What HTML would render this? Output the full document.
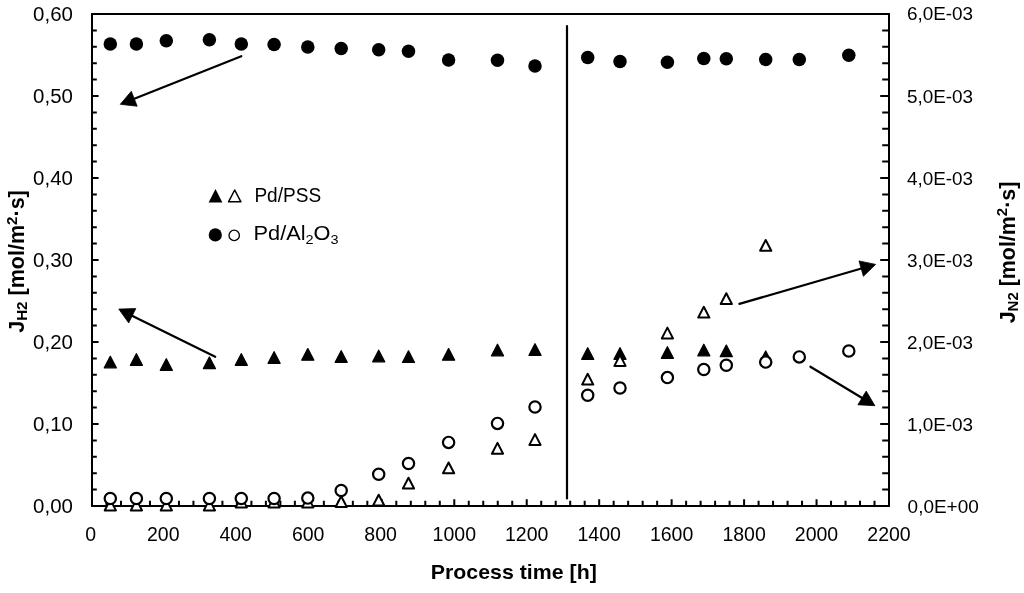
<!DOCTYPE html><html><head><meta charset="utf-8"><style>html,body{margin:0;padding:0;background:#fff;}svg{display:block;will-change:transform;}text{font-family:"Liberation Sans",sans-serif;fill:#000;}</style></head><body>
<svg width="1024" height="593" viewBox="0 0 1024 593">
<rect width="1024" height="593" fill="#fff"/>
<path d="M92 489.60H96.80M92 473.20H96.80M92 456.80H96.80M92 440.40H96.80M92 424.00H98.60M92 407.60H96.80M92 391.20H96.80M92 374.80H96.80M92 358.40H96.80M92 342.00H98.60M92 325.60H96.80M92 309.20H96.80M92 292.80H96.80M92 276.40H96.80M92 260.00H98.60M92 243.60H96.80M92 227.20H96.80M92 210.80H96.80M92 194.40H96.80M92 178.00H98.60M92 161.60H96.80M92 145.20H96.80M92 128.80H96.80M92 112.40H96.80M92 96.00H98.60M92 79.60H96.80M92 63.20H96.80M92 46.80H96.80M92 30.40H96.80M889 489.60H882.20M889 473.20H882.20M889 456.80H882.20M889 440.40H882.20M889 424.00H880.20M889 407.60H882.20M889 391.20H882.20M889 374.80H882.20M889 358.40H882.20M889 342.00H880.20M889 325.60H882.20M889 309.20H882.20M889 292.80H882.20M889 276.40H882.20M889 260.00H880.20M889 243.60H882.20M889 227.20H882.20M889 210.80H882.20M889 194.40H882.20M889 178.00H880.20M889 161.60H882.20M889 145.20H882.20M889 128.80H882.20M889 112.40H882.20M889 96.00H880.20M889 79.60H882.20M889 63.20H882.20M889 46.80H882.20M889 30.40H882.20M106.49 506V500.80M120.98 506V500.80M135.47 506V500.80M149.96 506V500.80M164.45 506V499.20M178.95 506V500.80M193.44 506V500.80M207.93 506V500.80M222.42 506V500.80M236.91 506V499.20M251.40 506V500.80M265.89 506V500.80M280.38 506V500.80M294.87 506V500.80M309.36 506V499.20M323.85 506V500.80M338.35 506V500.80M352.84 506V500.80M367.33 506V500.80M381.82 506V499.20M396.31 506V500.80M410.80 506V500.80M425.29 506V500.80M439.78 506V500.80M454.27 506V499.20M468.76 506V500.80M483.25 506V500.80M497.75 506V500.80M512.24 506V500.80M526.73 506V499.20M541.22 506V500.80M555.71 506V500.80M570.20 506V500.80M584.69 506V500.80M599.18 506V499.20M613.67 506V500.80M628.16 506V500.80M642.65 506V500.80M657.15 506V500.80M671.64 506V499.20M686.13 506V500.80M700.62 506V500.80M715.11 506V500.80M729.60 506V500.80M744.09 506V499.20M758.58 506V500.80M773.07 506V500.80M787.56 506V500.80M802.05 506V500.80M816.55 506V499.20M831.04 506V500.80M845.53 506V500.80M860.02 506V500.80M874.51 506V500.80" stroke="#000" stroke-width="2" fill="none"/>
<path d="M92 14H889V506H92Z" stroke="#000" stroke-width="2" fill="none" stroke-linejoin="miter"/>
<path d="M567 26V498.4" stroke="#000" stroke-width="2.2" stroke-linecap="round"/>
<path d="M241.3 56.2L132.4 99.5" stroke="#000" stroke-width="2.2" stroke-linecap="round"/><path d="M120.3 104.3L131.3 91.3L137.2 106.2Z" fill="#000" stroke="#000" stroke-width="0.8" stroke-linejoin="round"/>
<path d="M215.2 356.8L130.5 314.9" stroke="#000" stroke-width="2.2" stroke-linecap="round"/><path d="M118.8 309.1L135.8 308.6L128.7 322.9Z" fill="#000" stroke="#000" stroke-width="0.8" stroke-linejoin="round"/>
<path d="M739.4 303.9L863.1 268.0" stroke="#000" stroke-width="2.2" stroke-linecap="round"/><path d="M875.6 264.4L863.4 276.3L859.0 260.9Z" fill="#000" stroke="#000" stroke-width="0.8" stroke-linejoin="round"/>
<path d="M810.4 366.7L863.8 399.0" stroke="#000" stroke-width="2.2" stroke-linecap="round"/><path d="M874.9 405.7L857.9 404.8L866.2 391.1Z" fill="#000" stroke="#000" stroke-width="0.8" stroke-linejoin="round"/>
<g fill="#000"><circle cx="110.3" cy="44.0" r="6.75"/><circle cx="136.4" cy="43.9" r="6.75"/><circle cx="166.3" cy="40.7" r="6.75"/><circle cx="209.4" cy="39.8" r="6.75"/><circle cx="241.3" cy="44.1" r="6.75"/><circle cx="274.1" cy="44.6" r="6.75"/><circle cx="307.8" cy="46.9" r="6.75"/><circle cx="341.2" cy="48.4" r="6.75"/><circle cx="378.7" cy="49.7" r="6.75"/><circle cx="408.5" cy="51.2" r="6.75"/><circle cx="448.6" cy="59.9" r="6.75"/><circle cx="497.5" cy="60.3" r="6.75"/><circle cx="535" cy="66" r="6.75"/><circle cx="587.7" cy="57.5" r="6.75"/><circle cx="620" cy="61.6" r="6.75"/><circle cx="667.4" cy="62.2" r="6.75"/><circle cx="703.8" cy="58.4" r="6.75"/><circle cx="726.3" cy="58.8" r="6.75"/><circle cx="765.7" cy="59.4" r="6.75"/><circle cx="799.3" cy="59.4" r="6.75"/><circle cx="848.8" cy="55.3" r="6.75"/></g>
<g fill="#000" stroke="#000" stroke-width="1.3" stroke-linejoin="round"><path d="M110.3 356.3L116.3 367.85L104.3 367.85Z"/><path d="M136.4 353.7L142.4 365.25L130.4 365.25Z"/><path d="M166.3 358.8L172.3 370.35L160.3 370.35Z"/><path d="M209.4 357.0L215.4 368.55L203.4 368.55Z"/><path d="M241.3 353.7L247.3 365.25L235.3 365.25Z"/><path d="M274.1 351.7L280.1 363.25L268.1 363.25Z"/><path d="M307.8 348.6L313.8 360.15000000000003L301.8 360.15000000000003Z"/><path d="M341.2 350.7L347.2 362.25L335.2 362.25Z"/><path d="M378.7 350.3L384.7 361.85L372.7 361.85Z"/><path d="M408.5 350.90000000000003L414.5 362.45000000000005L402.5 362.45000000000005Z"/><path d="M448.6 348.6L454.6 360.15000000000003L442.6 360.15000000000003Z"/><path d="M497.5 344.3L503.5 355.85L491.5 355.85Z"/><path d="M535 343.8L541.0 355.35L529.0 355.35Z"/><path d="M587.7 347.8L593.7 359.35L581.7 359.35Z"/><path d="M620 347.7L626.0 359.25L614.0 359.25Z"/><path d="M667.4 346.8L673.4 358.35L661.4 358.35Z"/><path d="M703.8 344.3L709.8 355.85L697.8 355.85Z"/><path d="M726.3 345.1L732.3 356.65000000000003L720.3 356.65000000000003Z"/><path d="M765.7 351.0L771.7 362.55L759.7 362.55Z"/></g>
<g fill="#fff" stroke="#000" stroke-width="2" stroke-linejoin="round"><path d="M110.3 499.6L115.89999999999999 510.4L104.7 510.4Z"/><path d="M136.4 499.6L142.0 510.4L130.8 510.4Z"/><path d="M166.3 499.6L171.9 510.4L160.70000000000002 510.4Z"/><path d="M209.4 499.6L215.0 510.4L203.8 510.4Z"/><path d="M241.3 496.6L246.9 507.4L235.70000000000002 507.4Z"/><path d="M274.1 496.6L279.70000000000005 507.4L268.5 507.4Z"/><path d="M307.8 496.6L313.40000000000003 507.4L302.2 507.4Z"/><path d="M341.2 496.20000000000005L346.8 507.0L335.59999999999997 507.0Z"/><path d="M378.7 494.70000000000005L384.3 505.5L373.09999999999997 505.5Z"/><path d="M408.5 477.70000000000005L414.1 488.5L402.9 488.5Z"/><path d="M448.6 462.5L454.20000000000005 473.29999999999995L443.0 473.29999999999995Z"/><path d="M497.5 442.90000000000003L503.1 453.7L491.9 453.7Z"/><path d="M535 434.1L540.6 444.9L529.4 444.9Z"/><path d="M587.7 373.8L593.3000000000001 384.59999999999997L582.1 384.59999999999997Z"/><path d="M620 355.1L625.6 365.9L614.4 365.9Z"/><path d="M667.4 327.6L673.0 338.4L661.8 338.4Z"/><path d="M703.8 306.8L709.4 317.59999999999997L698.1999999999999 317.59999999999997Z"/><path d="M726.3 293.20000000000005L731.9 304.0L720.6999999999999 304.0Z"/><path d="M765.7 240.0L771.3000000000001 250.8L760.1 250.8Z"/></g>
<g fill="#fff" stroke="#000" stroke-width="2.2"><circle cx="110.3" cy="498.5" r="5.65"/><circle cx="136.4" cy="498.5" r="5.65"/><circle cx="166.3" cy="498.5" r="5.65"/><circle cx="209.4" cy="498.5" r="5.65"/><circle cx="241.3" cy="498.5" r="5.65"/><circle cx="274.1" cy="498.5" r="5.65"/><circle cx="307.8" cy="498.1" r="5.65"/><circle cx="341.2" cy="490.5" r="5.65"/><circle cx="378.7" cy="474.3" r="5.65"/><circle cx="408.5" cy="463.5" r="5.65"/><circle cx="448.6" cy="442.4" r="5.65"/><circle cx="497.5" cy="423.4" r="5.65"/><circle cx="535" cy="407" r="5.65"/><circle cx="587.7" cy="395.3" r="5.65"/><circle cx="620" cy="388" r="5.65"/><circle cx="667.4" cy="377.6" r="5.65"/><circle cx="703.8" cy="369.5" r="5.65"/><circle cx="726.3" cy="365.3" r="5.65"/><circle cx="765.7" cy="362.1" r="5.65"/><circle cx="799.3" cy="356.9" r="5.65"/><circle cx="848.8" cy="351" r="5.65"/></g>
<path d="M215.5 189.1L222.4 202.4L208.6 202.4Z" fill="#000"/>
<path d="M234.7 190L240.9 201.8L228.5 201.8Z" fill="#fff" stroke="#000" stroke-width="1.5" stroke-linejoin="round"/>
<circle cx="215.3" cy="234.9" r="6.6" fill="#000"/>
<circle cx="234.2" cy="235.4" r="5.2" fill="#fff" stroke="#000" stroke-width="1.3"/>
<text x="254.4" y="201.9" font-size="19.5" textLength="66.7" lengthAdjust="spacingAndGlyphs">Pd/PSS</text>
<text x="253.6" y="239.9" font-size="19.5" textLength="85" lengthAdjust="spacingAndGlyphs">Pd/Al<tspan font-size="13" dy="4.2">2</tspan><tspan dy="-4.2">O</tspan><tspan font-size="13" dy="4.2">3</tspan></text>
<text x="72.9" y="512.9" font-size="19.3" text-anchor="end" textLength="39.8" lengthAdjust="spacingAndGlyphs">0,00</text>
<text x="72.9" y="430.9" font-size="19.3" text-anchor="end" textLength="39.8" lengthAdjust="spacingAndGlyphs">0,10</text>
<text x="72.9" y="348.9" font-size="19.3" text-anchor="end" textLength="39.8" lengthAdjust="spacingAndGlyphs">0,20</text>
<text x="72.9" y="266.9" font-size="19.3" text-anchor="end" textLength="39.8" lengthAdjust="spacingAndGlyphs">0,30</text>
<text x="72.9" y="184.9" font-size="19.3" text-anchor="end" textLength="39.8" lengthAdjust="spacingAndGlyphs">0,40</text>
<text x="72.9" y="102.9" font-size="19.3" text-anchor="end" textLength="39.8" lengthAdjust="spacingAndGlyphs">0,50</text>
<text x="72.9" y="20.9" font-size="19.3" text-anchor="end" textLength="39.8" lengthAdjust="spacingAndGlyphs">0,60</text>
<text x="907.6" y="512.6" font-size="18.8" textLength="71.2" lengthAdjust="spacingAndGlyphs">0,0E+00</text>
<text x="906.9" y="430.6" font-size="18.8" textLength="66.2" lengthAdjust="spacingAndGlyphs">1,0E-03</text>
<text x="906.9" y="348.6" font-size="18.8" textLength="66.2" lengthAdjust="spacingAndGlyphs">2,0E-03</text>
<text x="906.9" y="266.6" font-size="18.8" textLength="66.2" lengthAdjust="spacingAndGlyphs">3,0E-03</text>
<text x="906.9" y="184.6" font-size="18.8" textLength="66.2" lengthAdjust="spacingAndGlyphs">4,0E-03</text>
<text x="906.9" y="102.6" font-size="18.8" textLength="66.2" lengthAdjust="spacingAndGlyphs">5,0E-03</text>
<text x="906.9" y="19.8" font-size="18.8" textLength="66.2" lengthAdjust="spacingAndGlyphs">6,0E-03</text>
<text x="90.8" y="541.2" font-size="19.5" text-anchor="middle">0</text>
<text x="163.3" y="541.2" font-size="19.5" text-anchor="middle">200</text>
<text x="235.7" y="541.2" font-size="19.5" text-anchor="middle">400</text>
<text x="308.2" y="541.2" font-size="19.5" text-anchor="middle">600</text>
<text x="380.6" y="541.2" font-size="19.5" text-anchor="middle">800</text>
<text x="454.3" y="541.2" font-size="19.5" text-anchor="middle">1000</text>
<text x="526.7" y="541.2" font-size="19.5" text-anchor="middle">1200</text>
<text x="599.2" y="541.2" font-size="19.5" text-anchor="middle">1400</text>
<text x="671.6" y="541.2" font-size="19.5" text-anchor="middle">1600</text>
<text x="744.1" y="541.2" font-size="19.5" text-anchor="middle">1800</text>
<text x="816.5" y="541.2" font-size="19.5" text-anchor="middle">2000</text>
<text x="889.0" y="541.2" font-size="19.5" text-anchor="middle">2200</text>
<text x="513.8" y="578.5" font-size="21" textLength="166" lengthAdjust="spacingAndGlyphs" font-weight="bold" text-anchor="middle">Process time [h]</text>
<text transform="translate(24.4 261.5) rotate(-90)" font-size="21.4" font-weight="bold" text-anchor="middle" textLength="142.6" lengthAdjust="spacingAndGlyphs">J<tspan font-size="15" dy="3">H2</tspan><tspan dy="-3"> [mol/m</tspan><tspan font-size="15" dy="-7.5">2</tspan><tspan dy="7.5">·s]</tspan></text>
<text transform="translate(1014.8 252.5) rotate(-90)" font-size="21.4" font-weight="bold" text-anchor="middle" textLength="141.6" lengthAdjust="spacingAndGlyphs">J<tspan font-size="15" dy="3">N2</tspan><tspan dy="-3"> [mol/m</tspan><tspan font-size="15" dy="-7.5">2</tspan><tspan dy="7.5">·s]</tspan></text>
</svg></body></html>
